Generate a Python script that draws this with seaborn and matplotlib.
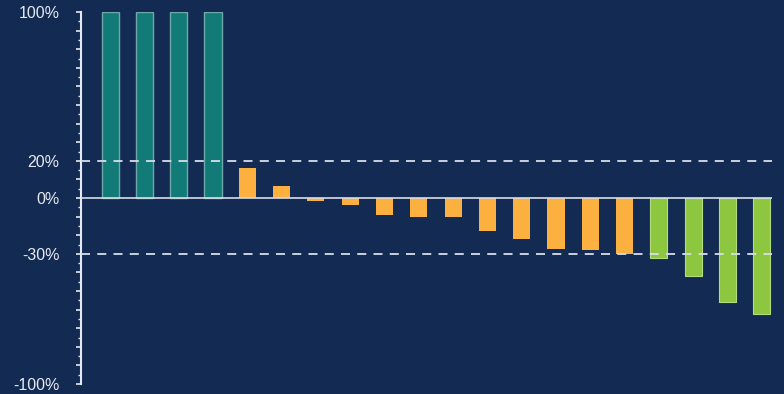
import matplotlib
matplotlib.use("Agg")
import matplotlib.pyplot as plt
import seaborn as sns
import pandas as pd
import numpy as np
from matplotlib.ticker import FixedLocator, MultipleLocator

# ---- data ----
patients = [f"P{i+1}" for i in range(20)]
change_pct = [100, 100, 100, 100,
              16, 6.5, -1.5, -4, -9.3, -10, -10, -17.7, -22.3, -27.5, -28, -30,
              -32, -42, -55.7, -62.3]
groups = ["PD"] * 4 + ["SD"] * 12 + ["PR"] * 4
group_colors = {"PD": "#127b78", "SD": "#fbb040", "PR": "#8dc63f"}
ytick_values = [100, 20, 0, -30, -100]
ytick_labels = ["100%", "20%", "0%", "-30%", "-100%"]
ref_lines = [20, -30]

bg = "#132b53"
fg = "#e6e9ef"

df = pd.DataFrame({"patient": patients, "change": change_pct, "group": groups})

sns.set_style("white")
plt.rcParams["font.family"] = ["Liberation Sans", "DejaVu Sans"]

fig = plt.figure(figsize=(7.84, 3.94), dpi=100, facecolor=bg)
ax = fig.add_axes([81/784, 1 - 384/394, (772-81)/784, (384-12)/394])
ax.set_facecolor(bg)

sns.barplot(data=df, x="patient", y="change", hue="group", order=patients,
            palette=group_colors, dodge=False, width=0.5, legend=False,
            saturation=1, ax=ax)

for patch in ax.patches:
    fc = patch.get_facecolor()
    if np.allclose(fc[:3], matplotlib.colors.to_rgb(group_colors["PD"]), atol=0.02):
        patch.set_edgecolor("#6fa8a8")
        patch.set_linewidth(1.0)
    elif np.allclose(fc[:3], matplotlib.colors.to_rgb(group_colors["PR"]), atol=0.02):
        patch.set_edgecolor("#b5dc80")
        patch.set_linewidth(0.8)
    else:
        patch.set_linewidth(0)

ax.axhline(0, color="#d8dde8", lw=1.2, zorder=3)
for v in ref_lines:
    ax.axhline(v, color="#d8dde8", lw=1.3, ls=(0, (5, 4)), zorder=3)

ax.set_xlim(-0.85, 19.3)
ax.set_ylim(-100, 100)
ax.set_xlabel("")
ax.set_ylabel("")
ax.set_xticks([])

ax.yaxis.set_major_locator(FixedLocator(np.arange(-100, 101, 10)))
ax.yaxis.set_minor_locator(MultipleLocator(5))
labels = []
for v in np.arange(-100, 101, 10):
    labels.append(ytick_labels[ytick_values.index(v)] if v in ytick_values else "")
ax.set_yticklabels(labels)
ax.tick_params(axis="y", which="major", direction="out", length=3.6, width=1.2,
               color=fg, labelcolor=fg, labelsize=11.5, pad=12, left=True)
ax.tick_params(axis="y", which="minor", direction="out", length=2.2, width=1.0,
               color=fg, left=True)

for s in ["top", "right", "bottom"]:
    ax.spines[s].set_visible(False)
ax.spines["left"].set_color(fg)
ax.spines["left"].set_linewidth(1.5)

fig.savefig("out.png", dpi=100, facecolor=bg)
